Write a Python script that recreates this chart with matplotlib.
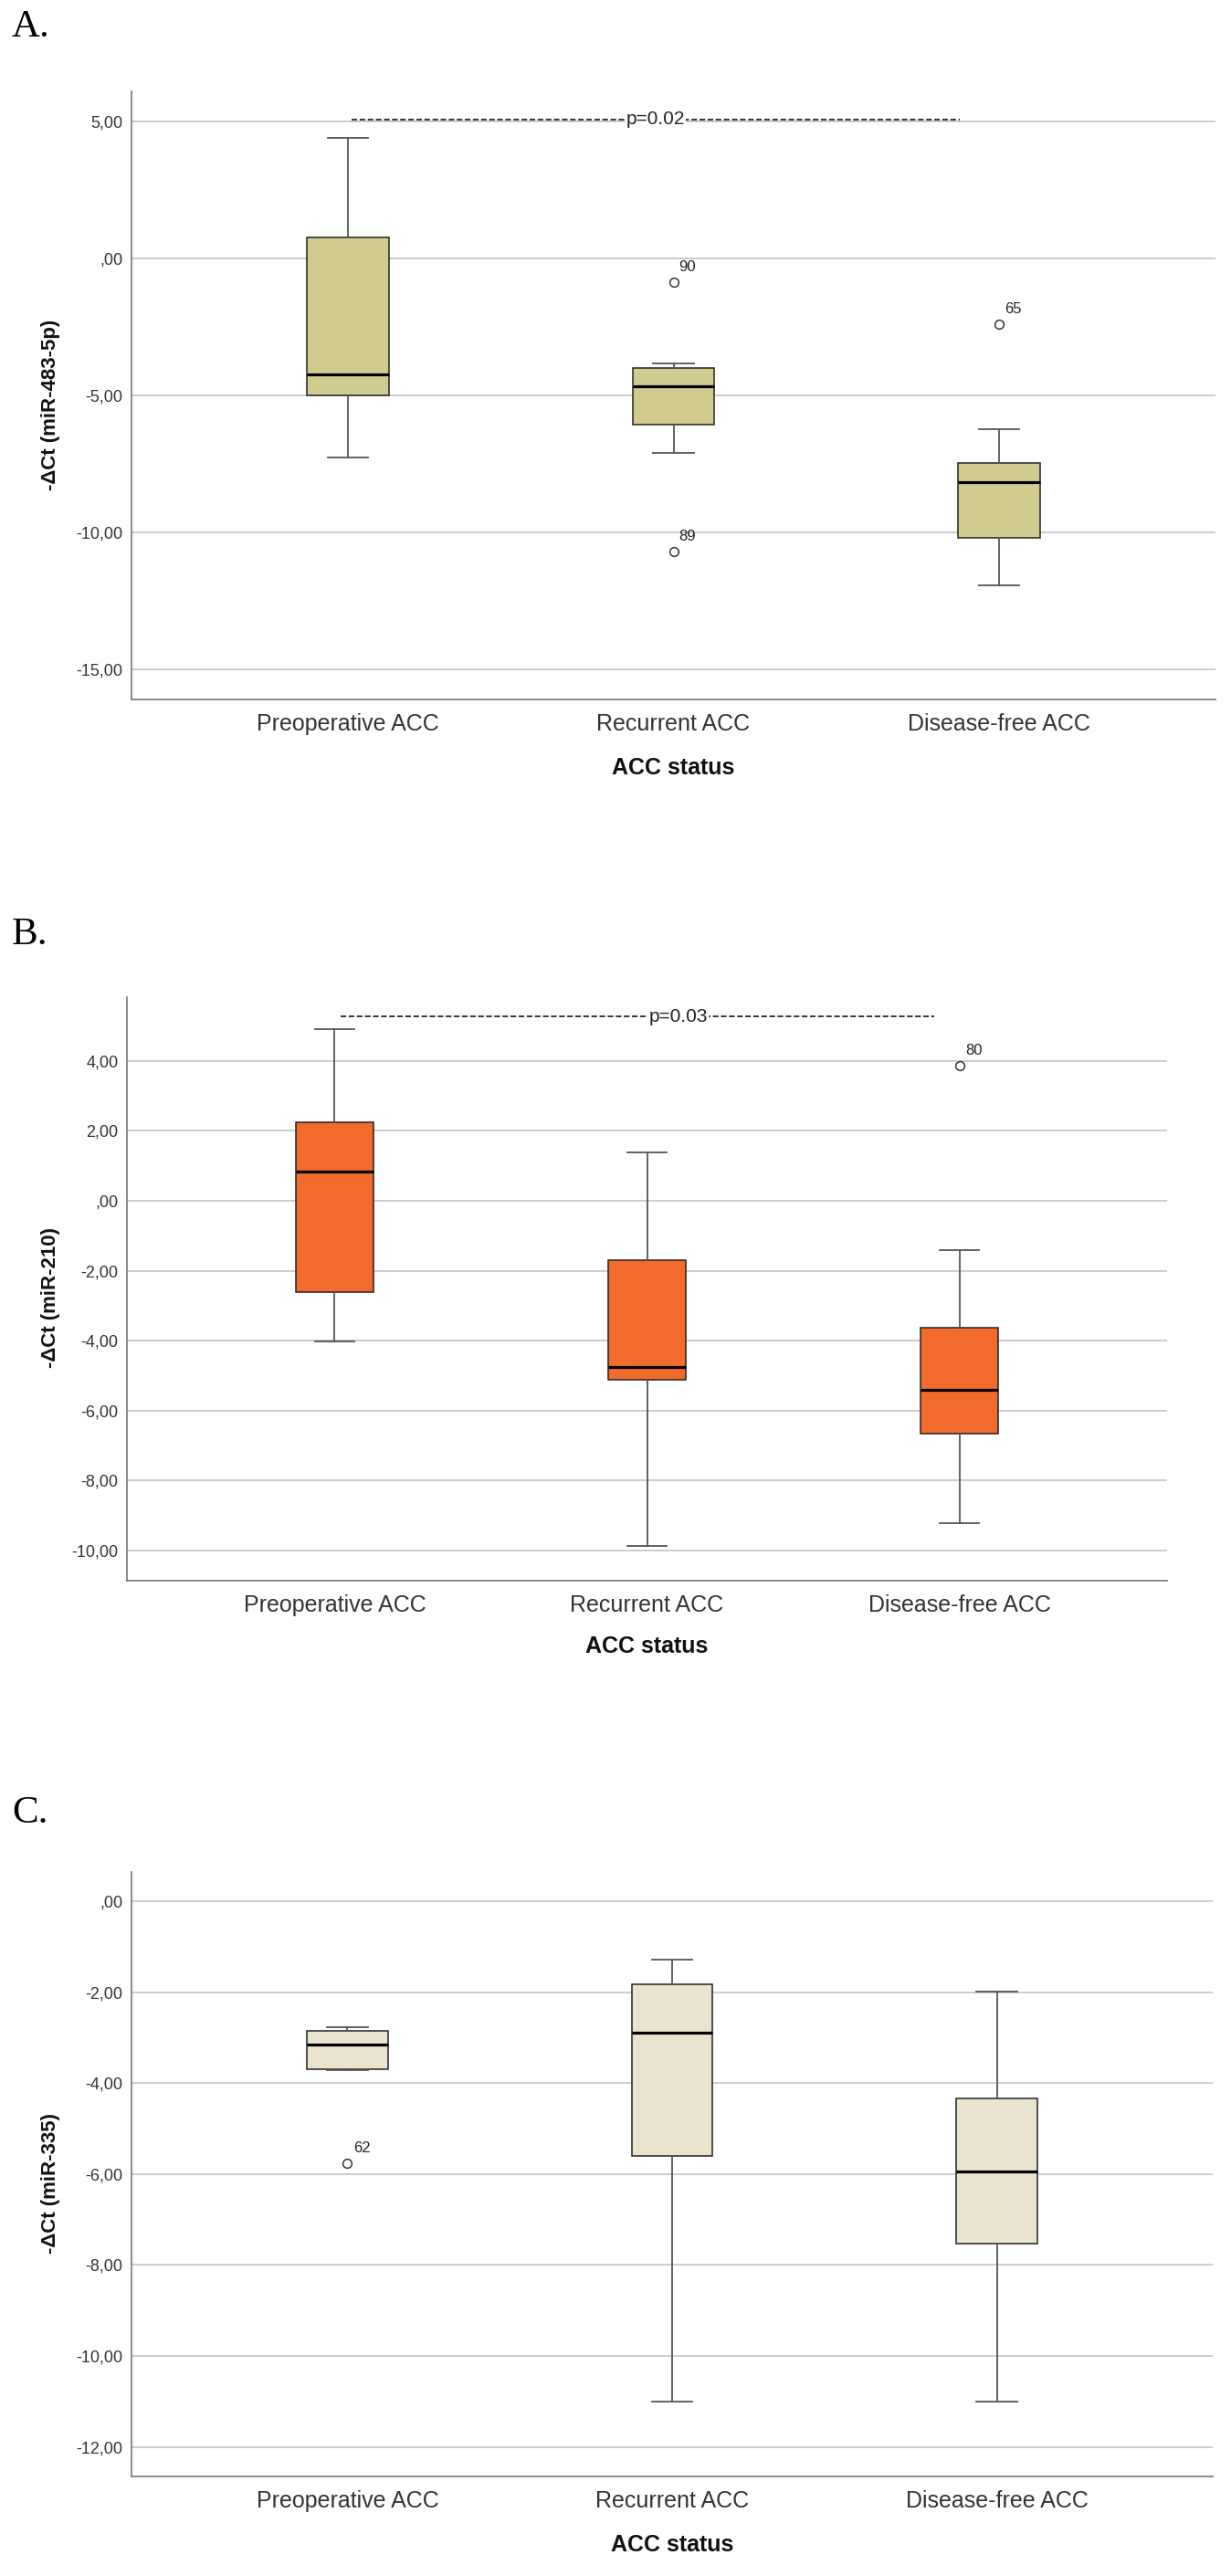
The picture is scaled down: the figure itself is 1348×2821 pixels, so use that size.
import matplotlib
matplotlib.use("Agg")
import matplotlib.pyplot as plt
from matplotlib.ticker import FuncFormatter

plt.rcParams["font.family"] = ["Liberation Sans", "DejaVu Sans"]

categories = ["Preoperative ACC", "Recurrent ACC", "Disease-free ACC"]

# panel A: miR-483-5p  (whislo, q1, median, q3, whishi)
a_whislo = [-7.27, -7.10, -11.93]
a_q1 = [-5.00, -6.07, -10.20]
a_med = [-4.23, -4.67, -8.17]
a_q3 = [0.77, -4.00, -7.47]
a_whishi = [4.40, -3.83, -6.23]
a_fliers = [[], [-0.87, -10.70], [-2.40]]
a_flier_ids = [[], ["90", "89"], ["65"]]

# panel B: miR-210
b_whislo = [-4.02, -9.87, -9.22]
b_q1 = [-2.61, -5.12, -6.66]
b_med = [0.83, -4.75, -5.40]
b_q3 = [2.25, -1.70, -3.63]
b_whishi = [4.90, 1.38, -1.41]
b_fliers = [[], [], [3.86]]
b_flier_ids = [[], [], ["80"]]

# panel C: miR-335
c_whislo = [-3.72, -11.00, -11.00]
c_q1 = [-3.70, -5.60, -7.53]
c_med = [-3.15, -2.89, -5.94]
c_q3 = [-2.85, -1.83, -4.33]
c_whishi = [-2.77, -1.28, -1.99]
c_fliers = [[-5.76], [], []]
c_flier_ids = [["62"], [], []]

a_ticks = [-15, -10, -5, 0, 5]
b_ticks = [-10, -8, -6, -4, -2, 0, 2, 4]
c_ticks = [-12, -10, -8, -6, -4, -2, 0]

a_pvalue = "p=0.02"
b_pvalue = "p=0.03"

W, H = 1348, 2821
fig = plt.figure(figsize=(W / 100, H / 100), dpi=100)


def spss_fmt(v, pos=None):
    s = f"{abs(v):.2f}".replace(".", ",")
    if abs(v) < 1:
        s = s[1:]
    return ("-" if v < 0 else "") + s


def panel(box, letter, letter_y, lo, q1, med, q3, hi, fliers, ids, color,
          ylim, ticks, ylabel, pval=None, p_span=None, p_y=None, p_x=None):
    l, t, r, b = box
    ax = fig.add_axes([l / W, 1 - b / H, (r - l) / W, (b - t) / H])
    stats = []
    for i in range(3):
        stats.append(dict(whislo=lo[i], q1=q1[i], med=med[i], q3=q3[i],
                          whishi=hi[i], fliers=fliers[i]))
    ax.bxp(stats, positions=[0, 1, 2], widths=0.25, patch_artist=True,
           showfliers=True,
           boxprops=dict(facecolor=color, edgecolor="#222222", linewidth=1.1),
           medianprops=dict(color="black", linewidth=2.3),
           whiskerprops=dict(color="#555555", linewidth=1.3),
           capprops=dict(color="#555555", linewidth=1.3),
           capwidths=0.125,
           flierprops=dict(marker="o", markersize=7, markerfacecolor="white",
                           markeredgecolor="#333333", markeredgewidth=1.1))
    for i in range(3):
        for v, name in zip(fliers[i], ids[i]):
            ax.annotate(name, (i, v), xytext=(4.5, 12), textcoords="offset points",
                        ha="left", va="center", fontsize=12, color="#222222")

    ax.set_xlim(-0.665, 2.665)
    ax.set_ylim(*ylim)
    ax.set_yticks(ticks)
    ax.yaxis.set_major_formatter(FuncFormatter(spss_fmt))
    ax.set_xticks([0, 1, 2])
    ax.set_xticklabels(categories)
    ax.tick_params(axis="x", length=0, pad=11, labelsize=18, labelcolor="#333333")
    ax.tick_params(axis="y", length=0, pad=7, labelsize=13, labelcolor="#333333")
    ax.yaxis.grid(True, color="#C8C8C8", linewidth=1.3)
    ax.set_axisbelow(True)
    for s in ["top", "right"]:
        ax.spines[s].set_visible(False)
    for s in ["left", "bottom"]:
        ax.spines[s].set_color("#777777")
        ax.spines[s].set_linewidth(1.2)

    ax.set_xlabel("ACC status", fontsize=18, fontweight="bold", color="#111111")
    ax.xaxis.label.set_va("center")
    ax.xaxis.set_label_coords(0.5, -0.113)
    ax.set_ylabel(ylabel, fontsize=16, fontweight="bold", color="#111111")
    ax.yaxis.label.set_va("center")
    ax.yaxis.set_label_coords(-(l - 55) / (r - l), 0.485)

    if pval is not None:
        ax.plot(p_span, [p_y, p_y], color="black", linewidth=1.1,
                linestyle=(0, (4, 1.8)), zorder=3)
        ax.text(p_x, p_y, pval, ha="center", va="center", fontsize=15,
                color="#222222", zorder=4,
                bbox=dict(facecolor="white", edgecolor="none", pad=0.5))

    fig.text(13 / W, 1 - letter_y / H, letter, fontsize=31, va="center",
             ha="left", family=["Liberation Serif", "DejaVu Serif"])
    return ax


panel((144, 100, 1331, 766), "A.", 30, a_whislo, a_q1, a_med, a_q3, a_whishi,
      a_fliers, a_flier_ids, "#D1CB8F", (-16.1, 6.1), a_ticks,
      "-\u0394Ct (miR-483-5p)", a_pvalue, [0.01, 1.88], 5.08, 0.945)

panel((139, 1092, 1278, 1731), "B.", 1024, b_whislo, b_q1, b_med, b_q3, b_whishi,
      b_fliers, b_flier_ids, "#F26A2C", (-10.86, 5.82), b_ticks,
      "-\u0394Ct (miR-210)", b_pvalue, [0.02, 1.92], 5.27, 1.10)

panel((144, 2050, 1328, 2712), "C.", 1986, c_whislo, c_q1, c_med, c_q3, c_whishi,
      c_fliers, c_flier_ids, "#EAE4CF", (-12.65, 0.64), c_ticks,
      "-\u0394Ct (miR-335)")

fig.savefig("out.png", dpi=100, facecolor="white")
